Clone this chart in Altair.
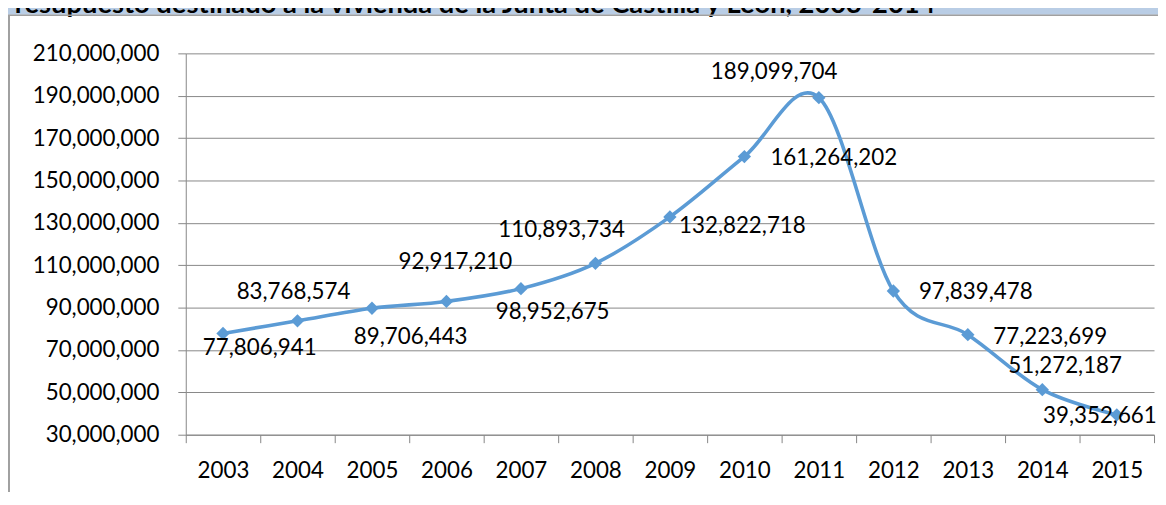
import altair as alt
import pandas as pd

years = ["2003", "2004", "2005", "2006", "2007", "2008", "2009",
         "2010", "2011", "2012", "2013", "2014", "2015"]
values = [77806941, 83768574, 89706443, 92917210, 98952675, 110893734,
          132822718, 161264202, 189099704, 97839478, 77223699, 51272187, 39352661]
y_ticks = [30000000, 50000000, 70000000, 90000000, 110000000, 130000000,
           150000000, 170000000, 190000000, 210000000]
title_text = "Presupuesto destinado a la vivienda de la Junta de Castilla y León, 2003-2014"

# label placement (pixel offsets from each point), kept apart from the data
label_offsets = {
    "2003": (37, 15), "2004": (-4, -29), "2005": (39, 29), "2006": (9, -40),
    "2007": (32, 24), "2008": (-34, -34), "2009": (73, 9), "2010": (90, 1),
    "2011": (-45, -26), "2012": (83, 1), "2013": (83, 2), "2014": (23, -24),
    "2015": (-17, 1),
}

df = pd.DataFrame({"year": years, "value": values})
one = pd.DataFrame({"a": [0]})

FONT = "Lato"
FS = 22.5
BLUE = "#5B9BD5"
W, H = 975, 384

x_enc = alt.X("year:O", scale=alt.Scale(type="band", paddingInner=0, paddingOuter=0),
              axis=alt.Axis(title=None, labelAngle=0, tickBand="extent", grid=False,
                            domainColor="#868686", tickColor="#868686", tickSize=8,
                            labelPadding=17, labelFontSize=FS, labelFont=FONT,
                            labelColor="black"))
y_enc = alt.Y("value:Q", scale=alt.Scale(domain=[30000000, 210000000], nice=False, zero=False),
              axis=alt.Axis(title=None, values=y_ticks, format=",d", grid=True,
                            gridColor="#888888", domainColor="#868686", tickColor="#868686",
                            tickSize=8, labelPadding=19, labelFontSize=FS, labelFont=FONT,
                            labelColor="black"))

base = alt.Chart(df)

line = base.mark_line(color=BLUE, strokeWidth=3.6, interpolate="cardinal").encode(x=x_enc, y=y_enc)
pts = base.mark_point(shape="diamond", filled=True, opacity=1, color=BLUE, size=180).encode(
    x="year:O", y="value:Q")

labels = []
for yr, (dx, dy) in label_offsets.items():
    labels.append(
        base.transform_filter(alt.datum.year == yr).mark_text(
            font=FONT, fontSize=FS, color="black", align="center", baseline="middle",
            dx=dx, dy=dy).encode(
            x="year:O", y="value:Q", text=alt.Text("value:Q", format=",d")))

band = alt.Chart(one).mark_rect(color="#B9CDE5").encode(
    x=alt.value(-187), x2=alt.value(W + 10), y=alt.value(-52), y2=alt.value(-39))
title = alt.Chart(one).mark_text(
    font=FONT, fontSize=27.5, fontWeight="bold", color="black", align="left",
    baseline="alphabetic").encode(
    x=alt.value(-189), y=alt.value(-40.8), text=alt.value(title_text))
frame_top = alt.Chart(one).mark_rule(color="#A0A0A0", strokeWidth=1.5).encode(
    x=alt.value(-179), x2=alt.value(W + 10), y=alt.value(-38.5))
frame_left = alt.Chart(one).mark_rule(color="#A0A0A0", strokeWidth=2).encode(
    x=alt.value(-178), y=alt.value(-38.5), y2=alt.value(H + 60))

chart = alt.layer(band, title, frame_top, frame_left, line, pts, *labels).properties(
    width=W, height=H,
    padding={"left": 179, "top": 44, "right": 4, "bottom": 56},
    autosize=alt.AutoSizeParams(type="none"),
    background="white",
).configure_view(stroke=None)

chart.save("out.html", embed_options={"renderer": "svg", "actions": False})
